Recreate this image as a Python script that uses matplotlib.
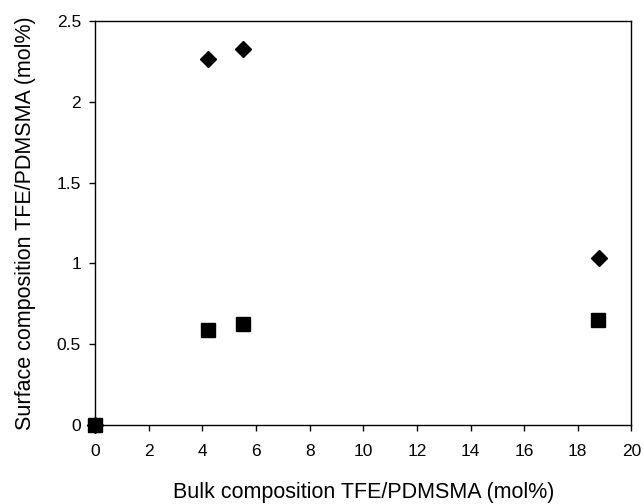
import matplotlib
matplotlib.use("Agg")
import matplotlib.pyplot as plt

plt.rcParams['font.family'] = ['Liberation Sans', 'DejaVu Sans']

# bulk vs surface composition, TFE/PDMSMA (mol%)
bulk_diamond = [0, 4.2, 5.5, 18.8]
surf_diamond = [0, 2.265, 2.328, 1.035]
bulk_square = [0, 4.2, 5.5, 18.75]
surf_square = [0, 0.588, 0.622, 0.652]

fig = plt.figure(figsize=(6.44, 5.04), dpi=100)
ax = fig.add_axes([0.1475, 0.157, 0.833, 0.801])

ax.plot(bulk_diamond, surf_diamond, 'D', color='black', ms=8.5, clip_on=False)
ax.plot(bulk_square, surf_square, 's', color='black', ms=9.5, clip_on=False)

ax.set_xlim(0, 20)
ax.set_ylim(0, 2.5)
ax.set_xticks(range(0, 21, 2))
ax.set_yticks([0, 0.5, 1, 1.5, 2, 2.5])
ax.set_yticklabels(['0', '0.5', '1', '1.5', '2', '2.5'])
ax.tick_params(direction='out', length=4, width=1, labelsize=12.5, colors='black')
ax.tick_params(axis='x', pad=10)
ax.tick_params(axis='y', pad=6)
for s in ax.spines.values():
    s.set_linewidth(1)

ax.set_xlabel('Bulk composition TFE/PDMSMA (mol%)', fontsize=15.5, labelpad=16)
ax.set_ylabel('Surface composition TFE/PDMSMA (mol%)', fontsize=15.5, labelpad=15)

fig.savefig('out.png', dpi=100)
